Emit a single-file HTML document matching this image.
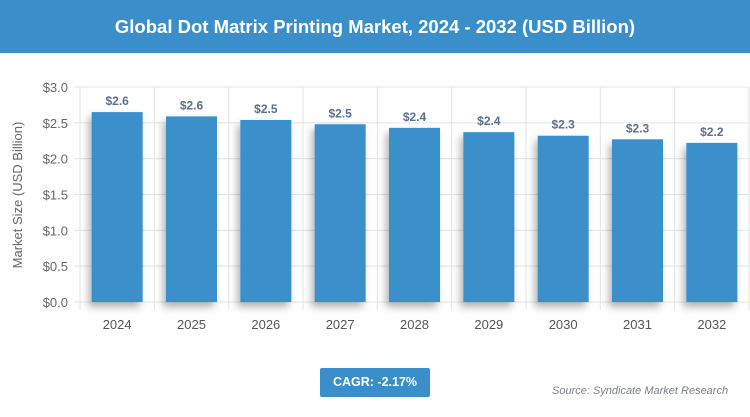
<!DOCTYPE html>
<html><head><meta charset="utf-8"><style>
body{margin:0;width:750px;height:417px;background:#fff;font-family:"Liberation Sans",sans-serif;overflow:hidden;position:relative}
#hdr{position:absolute;left:0;top:0;width:750px;height:53px;background:#3a8fcb;color:#fff;font-weight:bold;font-size:18.5px;text-align:center;line-height:53px}
#cagr{position:absolute;left:320px;top:368px;width:110px;height:29px;background:#3a8fcb;color:#fff;font-weight:bold;font-size:12.5px;text-align:center;line-height:29px;border-radius:2px}
#src{position:absolute;left:552px;top:385px;font-size:11px;font-style:italic;color:#7a7f85}
</style></head><body>
<div id="hdr">Global Dot Matrix Printing Market, 2024 - 2032 (USD Billion)</div>
<svg id="chart" width="750" height="417" style="position:absolute;left:0;top:0">
<defs><filter id="sh" x="-30%" y="-10%" width="160%" height="130%"><feDropShadow dx="-3" dy="5" stdDeviation="4" flood-color="#000" flood-opacity="0.3"/></filter></defs>
<g id="g"></g></svg>
<div id="cagr">CAGR: -2.17%</div>
<div id="src">Source: Syndicate Market Research</div>
<script>
const categories=["2024","2025","2026","2027","2028","2029","2030","2031","2032"];
const values=[2.65,2.59,2.54,2.48,2.43,2.37,2.32,2.27,2.22];
const labels=["$2.6","$2.6","$2.5","$2.5","$2.4","$2.4","$2.3","$2.3","$2.2"];
const yTicks=[0,0.5,1,1.5,2,2.5,3];
const yTickLabels=["$0.0","$0.5","$1.0","$1.5","$2.0","$2.5","$3.0"];
const NS="http://www.w3.org/2000/svg",g=document.getElementById('g');
const L=80,R=749,T=87,B=302,cw=(R-L)/categories.length;
const y=v=>B-(v/3)*(B-T), x=i=>L+i*cw;
function mk(t,a,txt){const e=document.createElementNS(NS,t);for(const k in a)e.setAttribute(k,a[k]);if(txt!=null)e.textContent=txt;g.appendChild(e);return e;}
yTicks.forEach((v,i)=>{
 const l=mk('line',{x1:L-6,x2:R,y1:y(v),y2:y(v),stroke:'#e3e3e3'});
 
 
 const t=mk('text',{x:L-12,y:y(v)+5,'text-anchor':'end','font-size':13,fill:'#666'},yTickLabels[i]);
 
 
});
for(let i=0;i<=categories.length;i++){
 const l=mk('line',{x1:x(i),x2:x(i),y1:T,y2:B+8,stroke:'#e3e3e3'});
 
 
}
categories.forEach((c,i)=>{
 const bx=x(i)+cw/2-25.5;
 const r=mk('rect',{x:bx,y:y(values[i]),width:51,height:B-y(values[i]),fill:'#3a8fcb',filter:'url(#sh)'});
 
 
 const t=mk('text',{x:x(i)+cw/2,y:y(values[i])-7,'text-anchor':'middle','font-size':12,'font-weight':'bold',fill:'#5a7090'},labels[i]);
 
 
 const xl=mk('text',{x:x(i)+cw/2,y:B+27,'text-anchor':'middle','font-size':13,fill:'#555'},c);
 
 
});
const yt=mk('text',{x:0,y:0,transform:'translate(22,195) rotate(-90)','text-anchor':'middle','font-size':13,fill:'#666'},'Market Size (USD Billion)');


</script>
</body></html>
